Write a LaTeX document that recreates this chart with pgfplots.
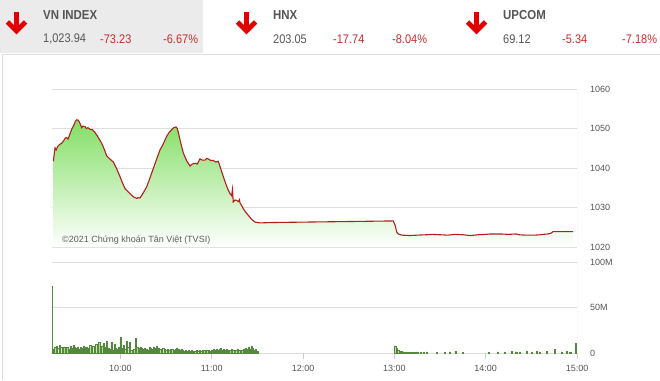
\documentclass[border=0pt]{standalone}
\usepackage{pgfplots}
\usepackage{pgfplotstable}
\pgfplotsset{compat=1.18}
\usepackage{fontspec}
\setmainfont{Liberation Sans}
\newfontfamily\cond[FakeStretch=0.88]{Liberation Sans}
\definecolor{headgray}{RGB}{235,235,235}
\definecolor{gridgray}{RGB}{222,222,222}
\definecolor{axgray}{RGB}{205,205,205}
\definecolor{labgray}{RGB}{85,85,85}
\definecolor{txtred}{RGB}{200,45,45}
\definecolor{arrowred}{RGB}{225,0,0}
\definecolor{linered}{RGB}{178,30,30}
\definecolor{areagreen}{RGB}{130,222,100}
\definecolor{volfill}{RGB}{175,222,145}
\definecolor{voldraw}{RGB}{85,135,65}

\pgfplotstableread{
t p
555.9 1041.7
556.6 1044.0
557.0 1045.1
557.8 1044.6
558.6 1045.4
560.2 1046.0
561.5 1046.3
562.8 1047.0
563.8 1047.6
564.6 1047.7
565.5 1047.3
566.4 1048.2
567.9 1049.8
569.3 1050.8
570.3 1051.8
571.2 1052.2
572.3 1052.1
573.4 1051.3
574.5 1050.2
575.4 1050.6
576.7 1050.5
577.6 1050.0
578.6 1050.2
580.0 1049.8
581.6 1049.7
583.2 1049.0
585.0 1048.0
587.6 1046.3
589.5 1044.6
590.9 1043.1
593.0 1042.3
595.3 1041.5
597.5 1039.8
599.5 1038.0
601.2 1036.3
603.0 1034.8
605.0 1034.0
607.3 1033.1
609.0 1032.6
610.6 1032.3
611.6 1032.5
612.8 1032.4
614.5 1033.4
617.2 1035.2
619.4 1037.5
621.6 1039.9
623.8 1042.3
626.0 1044.6
628.0 1046.0
630.3 1048.0
632.0 1049.0
633.6 1049.7
635.0 1050.2
636.5 1050.4
637.3 1050.0
638.0 1049.0
639.5 1046.5
641.3 1043.8
643.5 1041.8
645.7 1040.5
647.2 1041.0
649.0 1041.2
650.5 1041.0
652.2 1042.3
653.8 1042.0
655.5 1042.0
656.6 1042.4
657.7 1042.3
659.3 1041.9
661.0 1041.9
662.7 1041.5
664.3 1041.7
665.9 1039.8
667.6 1037.8
669.2 1036.0
670.8 1034.4
672.0 1033.5
673.0 1033.0
673.6 1034.6
674.1 1031.4
675.2 1031.9
676.3 1031.8
677.4 1031.5
678.2 1032.0
678.5 1031.2
679.6 1030.5
680.7 1029.7
682.3 1028.8
684.0 1028.0
686.2 1027.0
688.4 1026.3
691.6 1026.1
700 1026.2
720 1026.3
740 1026.4
760 1026.5
779.2 1026.6
780.5 1025.5
781.5 1023.8
782.5 1023.3
785 1023.0
790 1022.9
795 1023.0
801 1023.1
805 1023.2
810 1023.1
815 1023.0
820 1023.2
825 1023.1
830 1022.9
835 1023.1
840 1023.2
843 1023.3
850 1023.3
855 1023.2
860 1023.3
862 1023.1
866 1023.0
872 1023.0
876 1023.1
878 1023.2
881 1023.3
883 1023.5
884.3 1023.9
890 1023.9
897.5 1023.9
}\pricetable

\pgfplotstableread{
t v
555 73
556 4
557 6
558 8
559 5
560 9
561 6
562 4
563 7
564 5
565 6
566 4
567 8
568 5
569 9
570 6
571 5
572 7
573 4
574 6
575 5
576 8
577 6
578 7
579 5
580 9
581 6
582 8
583 7
584 10
585 6
586 12
587 5
588 8
589 11
590 6
591 13
592 5
593 4
594 12
595 3
596 10
597 5
598 4
599 7
600 17
601 5
602 9
603 4
604 13
605 6
606 12
607 3
608 2
609 4
610 16
611 6
612 5
613 6
614 5
615 4
616 5
617 4
618 3
619 6
620 5
621 4
622 7
623 5
624 8
625 5
626 4
627 4
628 5
629 4
630 3
631 4
632 3
633 4
634 4
635 3
636 4
637 5
638 4
639 3
640 4
641 3
642 2
643 3
644 2
645 3
646 2
647 3
648 2
649 2
650 3
651 2
652 3
653 2
654 3
655 3
656 2
657 3
658 3
659 2
660 3
661 4
662 3
663 4
664 3
665 4
666 5
667 3
668 4
669 3
670 4
671 3
672 3
673 4
674 3
675 2
676 3
677 4
678 3
679 2
680 3
681 4
682 5
683 4
684 6
685 4
686 8
687 5
688 3
689 4
690 2
780.5 8
781.5 5
782.5 3
783.5 2
784.5 2
786 1.5
787.5 1.5
789 1
791 1
793 1.2
795 1.5
797 1
799 1.2
801 1.5
808 1
813 1.2
816.5 1.5
820 2
825 1
842 1
848 1.5
852.5 1.2
857 2
860 1.5
862.5 1.5
867 2
870 1.5
873.5 2
875.5 1.5
880 2
885.5 4
890 1.5
893 2
895.5 1.5
899 11
}\voltable

\begin{document}
\begin{tikzpicture}
\begin{scope}[x=1bp,y=1bp]
\useasboundingbox (0,0) rectangle (660,380);
% header
\fill[headgray] (0,327) rectangle (203,380);
\draw[gridgray, line width=0.8bp] (660,325.5) -- (2.5,325.5) -- (2.5,0);
\foreach \cx in {16.5,246.5,476.5}{
  \draw[arrowred, line width=4.8bp] (\cx,368) -- (\cx,351);
  \draw[arrowred, line width=4.8bp, line join=miter, miter limit=10] (\cx-9,358) -- (\cx,349) -- (\cx+9,358);
}
\begin{scope}[every node/.style={inner sep=0pt, anchor=west}]
\node[labgray] at (43,365) {\cond\bfseries\fontsize{13bp}{15bp}\selectfont VN INDEX};
\node[labgray] at (43,341) {\cond\fontsize{12.5bp}{14bp}\selectfont 1,023.94};
\node[txtred] at (100,341) {\cond\fontsize{12.5bp}{14bp}\selectfont -73.23};
\node[txtred] at (163,341) {\cond\fontsize{12.5bp}{14bp}\selectfont -6.67\%};
\node[labgray] at (273,365) {\cond\bfseries\fontsize{13bp}{15bp}\selectfont HNX};
\node[labgray] at (273,341) {\cond\fontsize{12.5bp}{14bp}\selectfont 203.05};
\node[txtred] at (333,341) {\cond\fontsize{12.5bp}{14bp}\selectfont -17.74};
\node[txtred] at (392,341) {\cond\fontsize{12.5bp}{14bp}\selectfont -8.04\%};
\node[labgray] at (503,365) {\cond\bfseries\fontsize{13bp}{15bp}\selectfont UPCOM};
\node[labgray] at (503,341) {\cond\fontsize{12.5bp}{14bp}\selectfont 69.12};
\node[txtred] at (562,341) {\cond\fontsize{12.5bp}{14bp}\selectfont -5.34};
\node[txtred] at (622,341) {\cond\fontsize{12.5bp}{14bp}\selectfont -7.18\%};
\end{scope}
\end{scope}

% price chart
\begin{axis}[
  at={(52bp,133bp)}, anchor=south west,
  scale only axis, width=525bp, height=158bp,
  xmin=555, xmax=900, ymin=1020, ymax=1060,
  axis line style={draw=none},
  xtick=\empty,
  ytick={1020,1030,1040,1050,1060},
  yticklabel pos=right,
  ymajorgrids, grid style={gridgray, line width=0.8bp},
  major tick length=0pt,
  yticklabel style={anchor=west, inner sep=0pt, xshift=13bp, text=labgray, font=\fontsize{9bp}{10bp}\selectfont},
  /pgf/number format/assume math mode=true,
  /pgf/number format/1000 sep={},
]
\addplot[draw=none, top color=areagreen, bottom color=white] table[x=t,y=p] {\pricetable} \closedcycle;
\addplot[linered, line width=1.1bp] table[x=t,y=p] {\pricetable};
\draw[axgray, line width=0.8bp] (rel axis cs:1,0) -- (rel axis cs:1,1);
\end{axis}

\node[anchor=west, inner sep=0pt, text={rgb,255:red,95;green,95;blue,95}] at (62bp,140bp) {\fontsize{9bp}{10bp}\selectfont ©2021 Chứng khoán Tân Việt (TVSI)};

% volume chart
\begin{axis}[
  at={(52bp,27bp)}, anchor=south west,
  scale only axis, width=525bp, height=91bp,
  xmin=555, xmax=900, ymin=0, ymax=100,
  axis line style={draw=none},
  xtick={600,660,720,780,840,900},
  xticklabels={10:00,11:00,12:00,13:00,14:00,15:00},
  xtick pos=bottom,
  ytick={0,50,100},
  yticklabels={0,50M,100M},
  yticklabel pos=right,
  ymajorgrids, grid style={gridgray, line width=0.8bp},
  tick align=outside,
  major tick length=6bp,
  xtick style={draw=axgray, line width=0.6bp},
  ytick style={draw=none},
  yticklabel style={anchor=west, inner sep=0pt, xshift=7bp, text=labgray, font=\fontsize{9bp}{10bp}\selectfont},
  xticklabel style={anchor=center, inner sep=0pt, yshift=-9bp, text=labgray, font=\fontsize{9bp}{10bp}\selectfont},
  /pgf/number format/assume math mode=true,
]
\addplot[ybar, bar width=0.8, fill=volfill, draw=voldraw, line width=0.25bp] table[x=t,y=v] {\voltable};
\draw[axgray, line width=0.8bp] (rel axis cs:1,0) -- (rel axis cs:1,1);
\end{axis}
\end{tikzpicture}
\end{document}
